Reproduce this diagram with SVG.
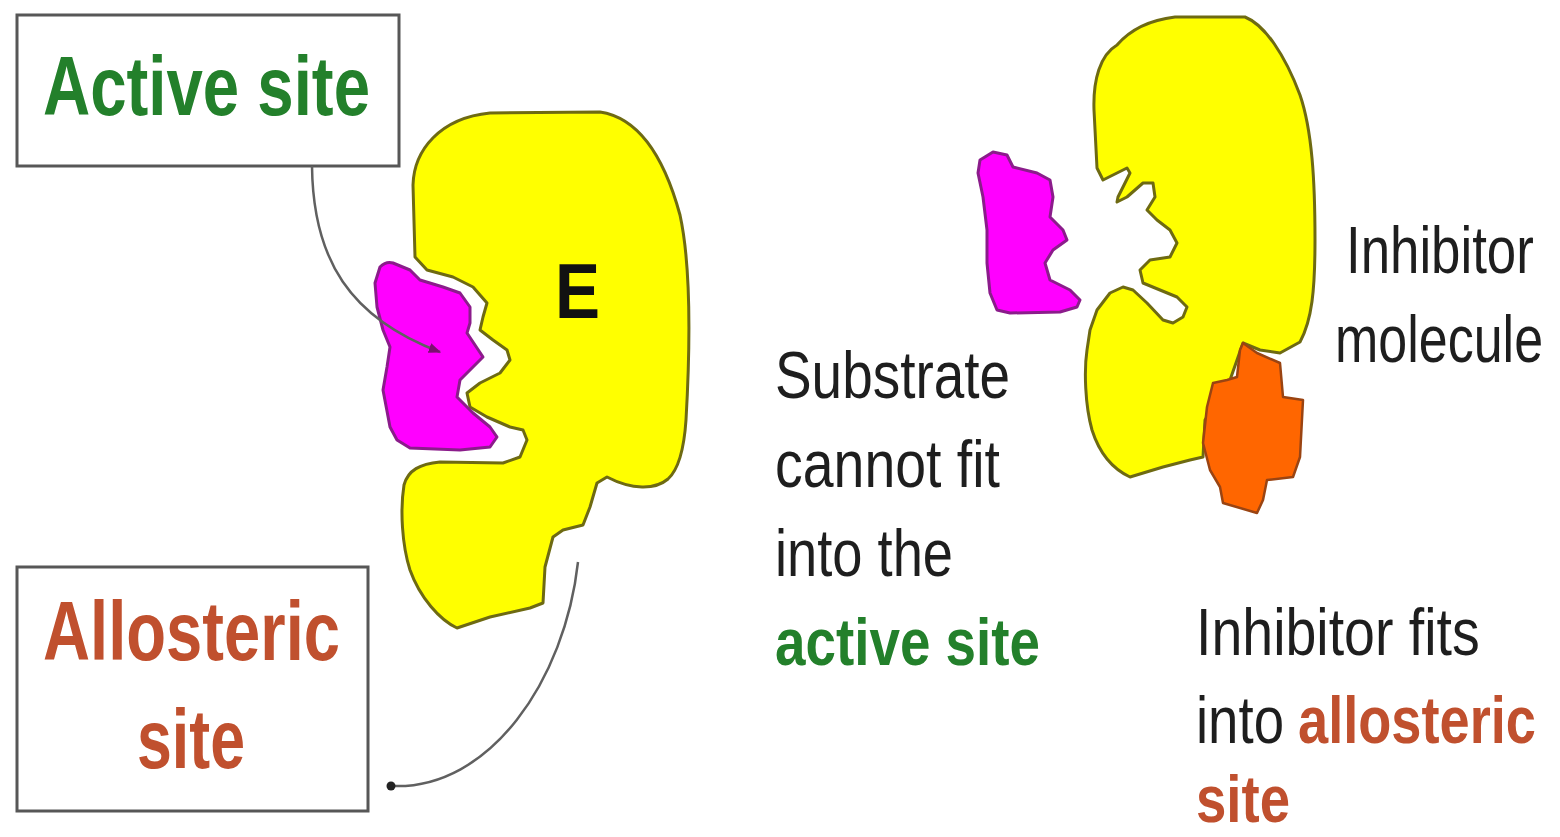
<svg xmlns="http://www.w3.org/2000/svg" width="1560" height="837" viewBox="0 0 1560 837">
  <style>
    .enz { fill: #ffff00; stroke: #6e6a12; stroke-width: 3; stroke-linejoin: round; }
    .sub { fill: #ff00ff; stroke: #8b1c8b; stroke-width: 3; stroke-linejoin: round; }
    .inh { fill: #ff6600; stroke: #9a4412; stroke-width: 2.5; stroke-linejoin: round; }
    .box { fill: #ffffff; stroke: #575757; stroke-width: 3; }
    .lbl { font-family: "Liberation Sans", Arial, sans-serif; }
    .big { font-size: 84px; font-weight: bold; }
    .txt { font-size: 66px; fill: #1e1e1e; }
    .bold { font-weight: bold; }
    .green { fill: #23802b; }
    .rust { fill: #c0502e; }
    .conn { fill: none; stroke: #606060; stroke-width: 2.5; }
  </style>
  <defs>
    <marker id="tip" viewBox="0 0 10 10" refX="9" refY="5" markerWidth="5" markerHeight="5" orient="auto">
      <path d="M0,1 L10,5 L0,9 Z" fill="#7a1070"/>
    </marker>
  </defs>

  <rect width="1560" height="837" fill="#ffffff"/>

  <!-- label boxes -->
  <g id="box-active">
    <rect class="box" x="17" y="15" width="382" height="151"/>
    <text class="lbl big green" x="43" y="115" textLength="327" lengthAdjust="spacingAndGlyphs">Active site</text>
  </g>
  <g id="box-allosteric">
    <rect class="box" x="17" y="567" width="351" height="244"/>
    <text class="lbl big rust" x="43" y="660" textLength="297" lengthAdjust="spacingAndGlyphs">Allosteric</text>
    <text class="lbl big rust" x="137" y="768" textLength="108" lengthAdjust="spacingAndGlyphs">site</text>
  </g>

  <!-- enzyme with substrate bound -->
  <g id="enzyme-left">
    <path class="enz" d="M415,257 L413,185 C414,150 440,118 490,113 L600,112 C640,118 665,160 680,215 C692,270 690,350 686,420 C684,450 678,470 668,479 C655,490 632,490 607,477 L597,483 L590,507 L583,525 L563,530 L553,537 L545,567 L543,603 L530,608 L490,617 L457,628 C440,620 420,598 410,570 C402,545 400,510 404,485 C408,470 420,464 440,462 L503,463 L520,457 L527,440 L523,430 L510,427 L487,417 L470,407 L467,393 L480,383 L500,373 L510,360 L507,350 L493,340 L480,330 L483,317 L487,303 L473,287 L453,277 L427,270 Z"/>
    <text class="lbl bold" x="555" y="318" font-size="78" fill="#111" textLength="45" lengthAdjust="spacingAndGlyphs">E</text>
  </g>
  <g id="substrate-left">
    <path class="sub" d="M380,267 C385,262 390,262 393,263 L410,270 L420,280 L443,287 L460,293 L470,307 L470,323 L467,333 L483,357 L460,380 L457,397 L473,413 L490,427 L497,437 L490,447 L460,450 L410,448 L397,440 L390,427 L383,390 L387,367 L390,347 L383,330 L377,307 L375,283 Z"/>
  </g>

  <!-- enzyme with inhibitor bound at the allosteric site -->
  <g id="enzyme-right">
    <path class="enz" d="M1097,168 L1094,110 C1093,80 1100,55 1117,45 C1130,30 1150,20 1175,17 L1245,17 C1265,25 1285,55 1300,95 C1312,130 1315,180 1315,240 C1315,290 1312,320 1300,342 L1280,353 L1260,350 L1243,343 L1230,380 L1205,420 L1203,457 L1190,460 L1163,467 L1130,477 C1115,470 1100,455 1092,430 C1085,405 1084,370 1087,350 L1090,330 L1097,310 L1110,293 L1123,287 L1133,290 L1147,303 L1163,320 L1173,323 L1183,317 L1187,307 L1177,297 L1160,290 L1143,283 L1140,270 L1150,260 L1170,257 L1177,243 L1170,230 L1157,220 L1147,210 L1155,197 L1153,183 L1143,183 L1127,197 L1117,202 L1118,197 L1130,173 L1127,168 L1117,173 L1103,180 Z"/>
  </g>
  <g id="substrate-right">
    <path class="sub" d="M980,160 L993,152 L1007,155 L1013,167 L1037,173 L1050,180 L1053,197 L1050,217 L1063,230 L1067,240 L1053,250 L1045,263 L1050,280 L1070,290 L1080,300 L1077,307 L1060,312 L1010,313 L997,310 L990,293 L987,263 L987,230 L983,197 L978,173 Z"/>
  </g>
  <g id="inhibitor">
    <path class="inh" d="M1240,350 L1243,343 L1257,353 L1280,363 L1283,397 L1303,400 L1300,457 L1293,477 L1267,480 L1263,500 L1257,513 L1223,503 L1220,487 L1210,470 L1203,443 L1207,407 L1213,383 L1227,380 L1237,377 Z"/>
  </g>

  <!-- pointer lines -->
  <g id="connectors">
    <path class="conn" d="M312,166 C313,260 350,318 440,352" marker-end="url(#tip)"/>
    <path class="conn" d="M578,562 C565,680 490,790 392,786"/>
    <circle cx="391" cy="786" r="4.5" fill="#222"/>
  </g>

  <!-- captions -->
  <g id="caption-substrate" class="lbl txt">
    <text x="775" y="398" textLength="235" lengthAdjust="spacingAndGlyphs">Substrate</text>
    <text x="775" y="487" textLength="225" lengthAdjust="spacingAndGlyphs">cannot fit</text>
    <text x="775" y="576" textLength="178" lengthAdjust="spacingAndGlyphs">into the</text>
    <text class="bold green" x="775" y="665" textLength="265" lengthAdjust="spacingAndGlyphs">active site</text>
  </g>
  <g id="caption-inhibitor" class="lbl txt">
    <text transform="translate(1346,273) scale(0.8,1)">Inhibitor</text>
    <text transform="translate(1335,362) scale(0.788,1)">molecule</text>
  </g>
  <g id="caption-allosteric" class="lbl txt">
    <text transform="translate(1196,655) scale(0.841,1)">Inhibitor fits</text>
    <text transform="translate(1196,743) scale(0.827,1)">into</text>
    <text class="bold rust" transform="translate(1298,743) scale(0.821,1)">allosteric</text>
    <text class="bold rust" transform="translate(1196,822) scale(0.827,1)">site</text>
  </g>
</svg>
